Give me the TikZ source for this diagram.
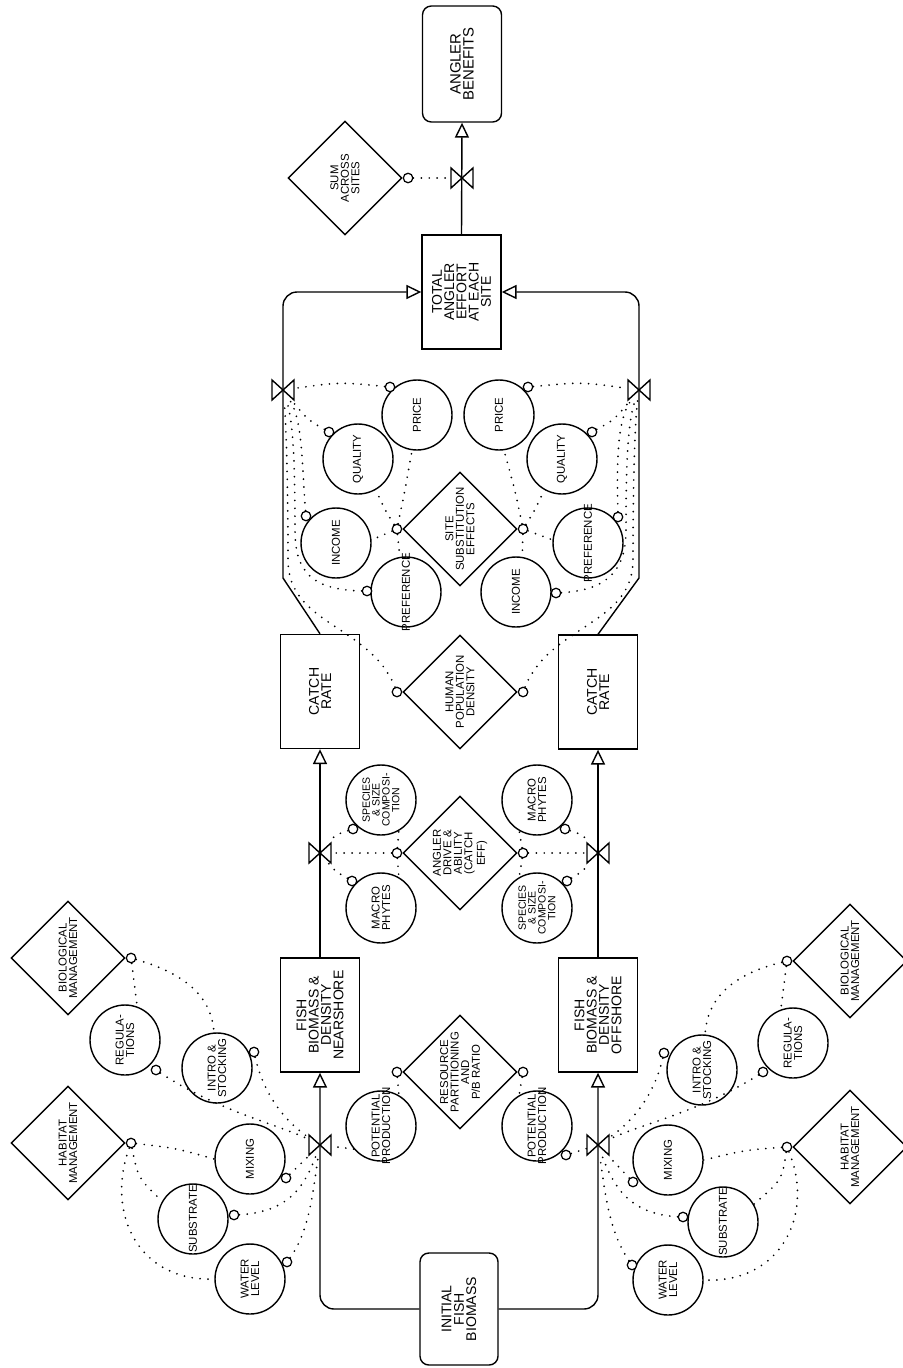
\documentclass[tikz,border=0pt]{standalone}
\usepackage{fontspec}
\setmainfont{Liberation Sans}
\usetikzlibrary{shapes.geometric,arrows.meta}
\tikzset{
  lw/.style={line width=0.8pt},
  box/.style={draw,lw,rectangle,minimum width=1.58cm,minimum height=2.28cm,inner sep=0pt},
  rbox/.style={box,rounded corners=5pt},
  circ/.style={draw,lw,circle,minimum size=1.4cm,inner sep=0pt},
  dia/.style={draw,lw,diamond,minimum width=2.28cm,minimum height=2.28cm,inner sep=0pt},
  sc/.style={draw,line width=0.7pt,circle,fill=white,minimum size=0.19cm,inner sep=0pt},
  vnode/.style={rectangle,minimum width=0.44cm,minimum height=0.4cm,inner sep=0pt},
  tb/.style={rotate=90,align=center,inner sep=0pt,font=\fontsize{8}{7}\selectfont},
  tc/.style={rotate=90,align=center,inner sep=0pt,font=\fontsize{6.5}{6}\selectfont},
  flow/.style={lw,-{Triangle[open,length=8.5pt,width=8pt]}},
  info/.style={line width=1.1pt,line cap=round,dash pattern=on 0pt off 4.5pt},
  valve/.pic={\draw[lw] (-11,-10) -- (-11,10) -- (11,-10) -- (11,10) -- cycle;}
}
\begin{document}
\begin{tikzpicture}[x=0.02cm,y=-0.02cm]
\useasboundingbox (0,0) rectangle (902,1368);

% ---------- boxes ----------
\node[rbox,minimum height=2.32cm] (ab) at (462,64) {};
\node[tb,font=\fontsize{8.5}{7.5}\selectfont] at (ab) {ANGLER\\BENEFITS};
\node[box] (tae) at (461.5,292) {};
\node[tb] at (tae) {TOTAL\\ANGLER\\EFFORT\\AT EACH\\SITE};
\node[box] (crl) at (320,691.5) {};
\node[tb] at (crl) {CATCH\\RATE};
\node[box] (crr) at (598,692) {};
\node[tb] at (crr) {CATCH\\RATE};
\node[box] (fbn) at (320,1015) {};
\node[tb] at (fbn) {FISH\\BIOMASS \&\\DENSITY\\NEARSHORE};
\node[box] (fbo) at (598,1015) {};
\node[tb] at (fbo) {FISH\\BIOMASS \&\\DENSITY\\OFFSHORE};
\node[rbox,minimum width=1.56cm,minimum height=2.24cm] (ifb) at (459,1309) {};
\node[tb] at (ifb) {INITIAL\\FISH\\BIOMASS};

% ---------- diamonds ----------
\node[dia] (sum) at (345,178) {};
\node[tc] at (sum) {SUM\\ACROSS\\SITES};
\node[sc,anchor=west] (sums) at (sum.east) {};

\node[dia] (sse) at (460,529) {};
\node[tc] at (sse) {SITE\\SUBSTITUTION\\EFFECTS};
\node[sc,anchor=east] (ssel) at (sse.west) {};
\node[sc,anchor=west] (sser) at (sse.east) {};

\node[dia] (hpd) at (460,692) {};
\node[tc] at (hpd) {HUMAN\\POPULATION\\DENSITY};
\node[sc,anchor=east] (hpdl) at (hpd.west) {};
\node[sc,anchor=west] (hpdr) at (hpd.east) {};

\node[dia] (ade) at (460,853) {};
\node[tc] at (ade) {ANGLER\\DRIVE \&\\ABILITY\\(CATCH\\EFF)};
\node[sc,anchor=east] (adel) at (ade.west) {};
\node[sc,anchor=west] (ader) at (ade.east) {};

\node[dia] (rpb) at (460,1072) {};
\node[tc] at (rpb) {RESOURCE\\PARTITIONING\\AND\\P/B RATIO};
\node[sc,anchor=east] (rpbl) at (rpb.west) {};
\node[sc,anchor=west] (rpbr) at (rpb.east) {};

\node[dia] (habl) at (68,1143) {};
\node[tc] at (habl) {HABITAT\\MANAGEMENT};
\node[sc,anchor=west] (habls) at (habl.east) {};
\node[dia] (biol) at (68,958) {};
\node[tc] at (biol) {BIOLOGICAL\\MANAGEMENT};
\node[sc,anchor=west] (biols) at (biol.east) {};
\node[dia] (habr) at (850,1147) {};
\node[tc] at (habr) {HABITAT\\MANAGEMENT};
\node[sc,anchor=east] (habrs) at (habr.west) {};
\node[dia] (bior) at (850,961) {};
\node[tc] at (bior) {BIOLOGICAL\\MANAGEMENT};
\node[sc,anchor=east] (biors) at (bior.west) {};

% ---------- circles ----------
\node[circ] (pl) at (417,415) {}; \node[tc] at (pl) {PRICE};
\node[circ] (ql) at (358,459) {}; \node[tc] at (ql) {QUALITY};
\node[circ] (il) at (336,543) {}; \node[tc] at (il) {INCOME};
\node[circ] (prl) at (406,592) {}; \node[tc] at (prl) {PREFERENCE};
\node[circ] (pr) at (499,415) {}; \node[tc] at (pr) {PRICE};
\node[circ] (qr) at (562,459) {}; \node[tc] at (qr) {QUALITY};
\node[circ] (prr) at (588,543) {}; \node[tc] at (prr) {PREFERENCE};
\node[circ] (ir) at (516,592) {}; \node[tc] at (ir) {INCOME};

\node[circ] (spl) at (381,800) {}; \node[tc,font=\fontsize{6}{5.6}\selectfont] at (spl) {SPECIES\\\& SIZE\\COMPOSI-\\TION};
\node[circ] (mcl) at (381,908) {}; \node[tc] at (mcl) {MACRO\\PHYTES};
\node[circ] (mcr) at (537,800) {}; \node[tc] at (mcr) {MACRO\\PHYTES};
\node[circ] (spr) at (537,908) {}; \node[tc,font=\fontsize{6}{5.6}\selectfont] at (spr) {SPECIES\\\& SIZE\\COMPOSI-\\TION};

\node[circ] (ppl) at (381,1126) {}; \node[tc] at (ppl) {POTENTIAL\\PRODUCTION};
\node[circ] (ppr) at (537,1126) {}; \node[tc] at (ppr) {POTENTIAL\\PRODUCTION};

\node[circ] (regl) at (125,1040) {}; \node[tc] at (regl) {REGULA-\\TIONS};
\node[circ] (introl) at (217,1068) {}; \node[tc] at (introl) {INTRO \&\\STOCKING};
\node[circ] (mixl) at (250,1159) {}; \node[tc] at (mixl) {MIXING};
\node[circ] (subl) at (193,1219) {}; \node[tc] at (subl) {SUBSTRATE};
\node[circ] (wll) at (250,1279) {}; \node[tc] at (wll) {WATER\\LEVEL};
\node[circ] (regr) at (793,1043) {}; \node[tc] at (regr) {REGULA-\\TIONS};
\node[circ] (intror) at (702,1070) {}; \node[tc] at (intror) {INTRO \&\\STOCKING};
\node[circ] (mixr) at (668,1160) {}; \node[tc] at (mixr) {MIXING};
\node[circ] (subr) at (723,1222) {}; \node[tc] at (subr) {SUBSTRATE};
\node[circ] (wlr) at (668,1280) {}; \node[tc] at (wlr) {WATER\\LEVEL};

% ---------- small circles on the circles ----------
\node[sc] (pls) at (390,387) {};
\node[sc] (qls) at (329,432) {};
\node[sc] (ils) at (306,516) {};
\node[sc] (prls) at (367,591) {};
\node[sc] (prs) at (528,387) {};
\node[sc] (qrs) at (592,432) {};
\node[sc] (prrs) at (618,517) {};
\node[sc] (irs) at (556,593) {};
\node[sc] (spls) at (353,829) {};
\node[sc] (mcls) at (352,881) {};
\node[sc] (mcrs) at (565,829) {};
\node[sc] (sprs) at (567,881) {};
\node[sc] (pprs) at (566,1155) {};
\node[sc] (regls) at (156,1070) {};
\node[sc] (introls) at (254,1052) {};
\node[sc] (mixls) at (286,1178) {};
\node[sc] (subls) at (234,1215) {};
\node[sc] (wlls) at (287,1262) {};
\node[sc] (regrs) at (763,1072) {};
\node[sc] (intrors) at (664,1053) {};
\node[sc] (mixrs) at (633,1182) {};
\node[sc] (subrs) at (683,1217) {};
\node[sc] (wlrs) at (632,1265) {};

% ---------- valves ----------
\node[vnode] (vab) at (462,178) {};
\node[vnode] (vtl) at (283,390) {};
\node[vnode] (vtr) at (639,390) {};
\node[vnode] (vcl) at (320,853) {};
\node[vnode] (vcr) at (598,853) {};
\node[vnode] (vfl) at (320,1145) {};
\node[vnode] (vfr) at (598,1145) {};
\coordinate (kl) at (283,578);
\coordinate (kr) at (639,578);

% ---------- flows ----------
\draw[flow,rounded corners=8pt] (ifb.west) -| (fbn.south);
\draw[flow,rounded corners=8pt] (ifb.east) -| (fbo.south);
\draw[flow] (fbn.north) -- (crl.south);
\draw[flow] (fbo.north) -- (crr.south);
\draw[flow] (crl.north) -- (kl) [rounded corners=8pt] |- (tae.west);
\draw[flow] (crr.north) -- (kr) [rounded corners=8pt] |- (tae.east);
\draw[flow] (tae.north) -- (ab.south);
\foreach \v in {vab,vtl,vtr,vcl,vcr,vfl,vfr} \pic at (\v) {valve};

% ---------- information links ----------
\draw[info] (sums) -- (vab);
% upper left
\draw[info] (pls) .. controls (340,382) .. (vtl);
\draw[info] (qls) .. controls (308,420) .. (vtl);
\draw[info] (ils) .. controls (302,470) and (303,420) .. (vtl);
\draw[info] (prls) .. controls (310,590) and (295,570) .. (295,530) .. controls (295,460) and (293,420) .. (vtl);
\draw[info] (hpdl) .. controls (370,625) and (288,625) .. (288,560) .. controls (288,480) and (286,420) .. (vtl);
\draw[info] (ssel) .. controls (405,490) .. (pl.262);
\draw[info] (ssel) .. controls (385,510) .. (ql.300);
\draw[info] (ssel) -- (il.5);
\draw[info] (ssel) -- (prl.100);
% upper right
\draw[info] (prs) .. controls (582,382) .. (vtr);
\draw[info] (qrs) .. controls (614,420) .. (vtr);
\draw[info] (prrs) .. controls (617,470) and (616,420) .. (vtr);
\draw[info] (irs) .. controls (608,590) and (626,570) .. (626,530) .. controls (626,460) and (628,420) .. (vtr);
\draw[info] (hpdr) .. controls (550,625) and (633,625) .. (633,560) .. controls (633,480) and (635,420) .. (vtr);
\draw[info] (sser) .. controls (515,490) .. (pr.278);
\draw[info] (sser) .. controls (535,510) .. (qr.240);
\draw[info] (sser) -- (prr.175);
\draw[info] (sser) -- (ir.80);
% angler
\draw[info] (spls) .. controls (335,835) .. (vcl);
\draw[info] (adel) -- (vcl);
\draw[info] (mcls) .. controls (335,871) .. (vcl);
\draw[info] (adel) -- (spl.300);
\draw[info] (adel) -- (mcl.60);
\draw[info] (mcrs) .. controls (583,835) .. (vcr);
\draw[info] (ader) -- (vcr);
\draw[info] (sprs) .. controls (583,871) .. (vcr);
\draw[info] (ader) -- (mcr.240);
\draw[info] (ader) -- (spr.120);
% resource
\draw[info] (rpbl) -- (ppl.60);
\draw[info] (rpbr) -- (ppr.120);
\draw[info] (ppl.220) -- (vfl);
\draw[info] (pprs) -- (vfr);
% bottom left
\draw[info] (biols) -- (regl.70);
\draw[info] (biols) .. controls (190,975) and (212,1000) .. (introl.95);
\draw[info] (habls) .. controls (175,1148) .. (mixl.180);
\draw[info] (habls) .. controls (138,1178) .. (subl.150);
\draw[info] (habls) .. controls (105,1215) and (140,1282) .. (wll.180);
\draw[info] (mixls) -- (vfl);
\draw[info] (subls) .. controls (290,1212) and (305,1185) .. (vfl);
\draw[info] (wlls) .. controls (310,1230) and (313,1190) .. (vfl);
\draw[info] (introls) .. controls (265,1100) and (290,1125) .. (vfl);
\draw[info] (regls) .. controls (220,1112) and (280,1125) .. (vfl);
% bottom right
\draw[info] (biors) -- (regr.110);
\draw[info] (biors) .. controls (730,975) and (707,1000) .. (intror.85);
\draw[info] (habrs) .. controls (745,1150) .. (mixr.0);
\draw[info] (habrs) .. controls (782,1180) .. (subr.30);
\draw[info] (habrs) .. controls (815,1215) and (780,1284) .. (wlr.0);
\draw[info] (mixrs) -- (vfr);
\draw[info] (subrs) .. controls (628,1214) and (613,1185) .. (vfr);
\draw[info] (wlrs) .. controls (608,1230) and (605,1190) .. (vfr);
\draw[info] (intrors) .. controls (653,1100) and (628,1125) .. (vfr);
\draw[info] (regrs) .. controls (700,1112) and (638,1125) .. (vfr);
\end{tikzpicture}
\end{document}
